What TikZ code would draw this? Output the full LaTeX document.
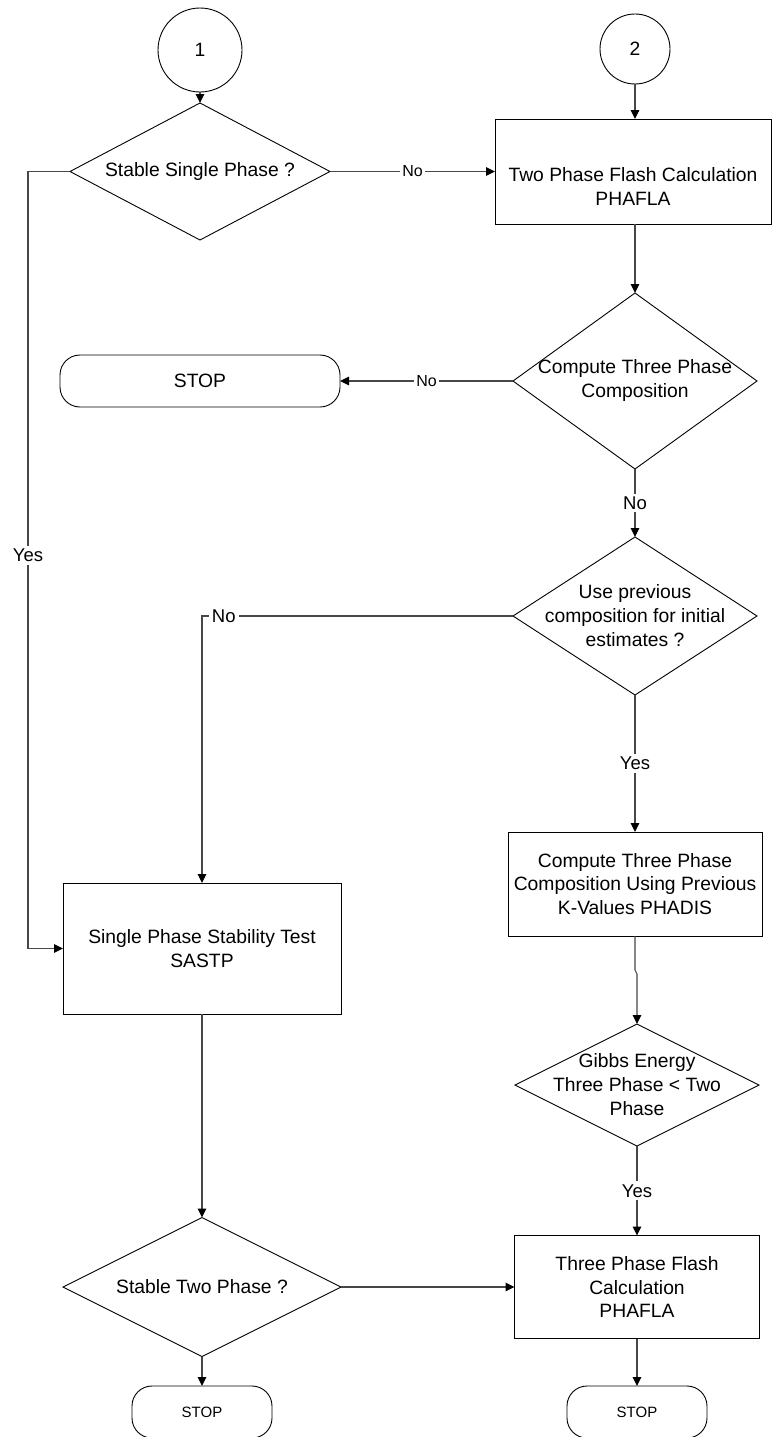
\documentclass[tikz,border=0pt]{standalone}
\usepackage{fontspec}
\setmainfont{Liberation Sans}
\usetikzlibrary{arrows.meta,shapes.geometric}
\begin{document}
\begin{tikzpicture}[x=1pt,y=-1pt,
  fshape/.style={draw=black, line width=0.9pt, inner sep=0pt, outer sep=0pt, align=center,
                 font=\fontsize{19.3}{23.5}\selectfont},
  dia/.style={fshape, diamond},
  procbox/.style={fshape, rectangle},
  term/.style={fshape, rectangle, rounded corners=20pt},
  txt/.style={align=center, inner sep=0pt, font=\fontsize{19.3}{24}\selectfont},
  conn/.style={draw=black!72, line width=1.1pt, -{Triangle[length=9pt,width=8.5pt,color=black]}},
  lblh/.style={fill=white, inner sep=2pt, text=black, font=\fontsize{16}{18}\selectfont},
  lblv/.style={fill=white, inner sep=3pt, text=black, font=\fontsize{18.5}{21}\selectfont}
]
\useasboundingbox (0,0) rectangle (772,1437);
\fill[white] (0,0) rectangle (772,1437);

% off-page connectors
\node[fshape, circle, minimum size=84pt] (c1) at (200,50) {1};
\node[fshape, circle, minimum size=70pt] (c2) at (635,49) {2};

% decision: stable single phase
\node[dia, minimum width=260pt, minimum height=137pt] (d1) at (200,171.5) {};
\node[txt] (t1) at (d1) {Stable Single Phase ?};

% two phase flash
\node[procbox, minimum width=276pt, minimum height=105pt] (b1) at (633,171.5) {};
\node[txt] (t2) at (633,187) {Two Phase Flash Calculation\\PHAFLA};

% STOP top
\node[term, minimum width=280pt, minimum height=52pt] (s1) at (200,381) {STOP};

% decision: compute three phase composition
\node[dia, minimum width=244pt, minimum height=176pt] (d2) at (635,381) {};
\node[txt] (t3) at (d2) {Compute Three Phase\\Composition};

% decision: use previous composition
\node[dia, minimum width=244pt, minimum height=158pt] (d3) at (635,616) {};
\node[txt] (t4) at (d3) {Use previous\\composition for initial\\estimates ?};

% single phase stability test
\node[procbox, minimum width=278pt, minimum height=131pt] (b2) at (202,948.5)
  {Single Phase Stability Test\\SASTP};

% PHADIS box
\node[procbox, minimum width=254pt, minimum height=104pt] (b3) at (635,884)
  {Compute Three Phase\\Composition Using Previous\\K-Values PHADIS};

% Gibbs decision
\node[dia, minimum width=244pt, minimum height=122pt] (d4) at (637,1085) {};
\node[txt] (t5) at (d4) {Gibbs Energy\\Three Phase < Two\\Phase};

% stable two phase decision
\node[dia, minimum width=278pt, minimum height=139pt] (d5) at (202,1287) {};
\node[txt] (t6) at (d5) {Stable Two Phase ?};

% three phase flash box
\node[procbox, minimum width=245pt, minimum height=103pt] (b4) at (637,1287)
  {Three Phase Flash\\Calculation\\PHAFLA};

% bottom STOPs
\node[term, minimum width=140pt, minimum height=52pt, font=\fontsize{15}{18}\selectfont] (s2) at (202,1412) {STOP};
\node[term, minimum width=140pt, minimum height=52pt, font=\fontsize{15}{18}\selectfont] (s3) at (637,1412) {STOP};

% edges
\draw[conn] (c1.south) -- (d1.north);
\draw[conn] (d1.east) -- node[lblh] {No} (b1.west);
\draw[conn] (c2.south) -- (c2.south |- b1.north);
\draw[conn] (b1.south -| d2.north) -- (d2.north);
\draw[conn] (d2.west) -- node[lblh] {No} (s1.east);
\draw[conn] (d2.south) -- node[lblv] {No} (d3.north);
\draw[conn] (d3.west) -| node[lblv, pos=0.465] {No} (b2.north);
\draw[conn] (d1.west) -- ++(-42,0) |- node[lblv, pos=0.247] {Yes} (b2.west);
\draw[conn] (d3.south) -- node[lblv] {Yes} (b3.north);
\draw[conn] (b3.south) -- ++(0,34) -- ++(2,4) -- (d4.north);
\draw[conn] (d4.south) -- node[lblv] {Yes} (b4.north);
\draw[conn] (b2.south) -- (d5.north);
\draw[conn] (d5.east) -- (b4.west);
\draw[conn] (d5.south) -- (s2.north);
\draw[conn] (b4.south) -- (s3.north);
\end{tikzpicture}
\end{document}
